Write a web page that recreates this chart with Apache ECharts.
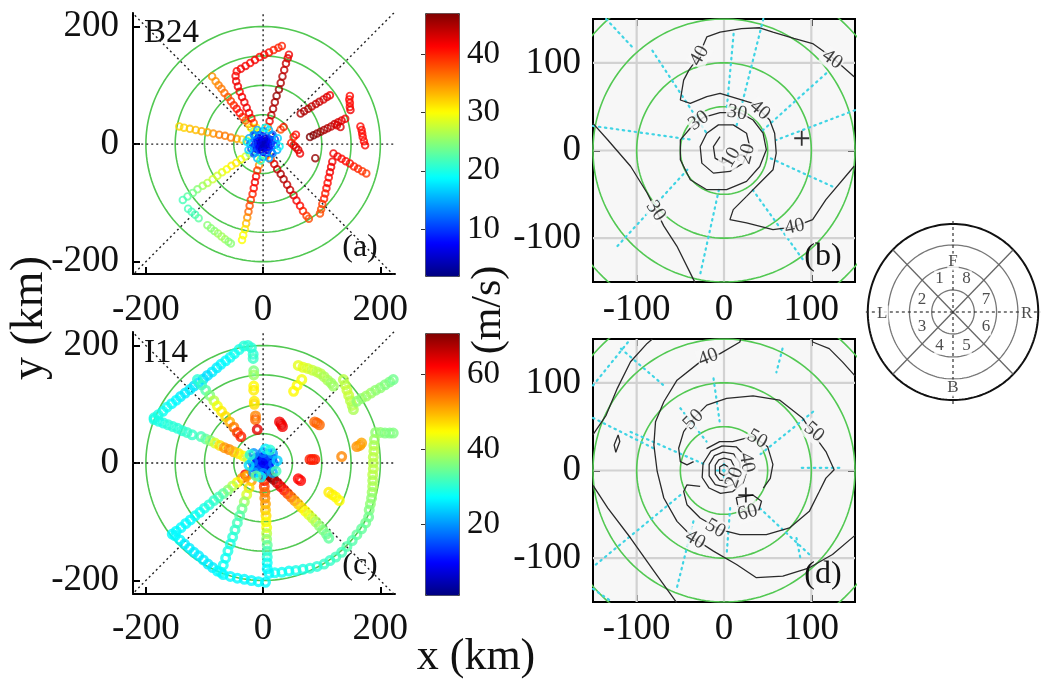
<!DOCTYPE html>
<html><head><meta charset="utf-8">
<script src="https://cdn.jsdelivr.net/npm/echarts@6/dist/echarts.min.js"></script>
<style>html,body{margin:0;padding:0;background:#fff}#c{width:1045px;height:679px}</style>
</head><body><div id="c"></div>
<script>
// ---------- tick labels ----------
const ticksA = [-200, 0, 200];
const ticksB = [-100, 0, 100];
const cbTicksA = [10, 20, 30, 40];
const cbTicksC = [20, 40, 60];
const ringRadii = [50, 100, 150, 200];
const diagRings = [22, 45, 67, 88];
const diagNumbers = [['1',-14,33],['8',14,33],['2',-32,12],['7',34,12],['3',-32,-15],['6',34,-15],['4',-14,-34],['5',14,-34]];
const diagLetters = [['F',0,50],['B',0,-76],['L',-73,-2],['R',76,-2]];

// ---------- panel (a) B24 : [x km, y km, wind m/s] ----------
const a_core = [[0,0,3],[3,2,3],[-3,-2,3],[2,-4,3],[-2,4,3],[6,0,4],[-6,0,4],[0,6,4],[0,-6,4],[5,5,4],[-5,-5,4],[5,-5,5],[-5,5,5],[9,3,5],[-9,-3,5],[3,9,5],[-3,-9,5],[9,-4,6],[-9,4,6],[11,8,6],[-11,-8,6],[8,-10,6],[-8,10,7],[13,0,7],[-13,0,7],[0,13,7],[0,-13,7],[15,6,8],[-15,-6,8],[6,-15,8],[-6,15,8],[14,14,9],[-14,-14,9],[14,-14,9],[-14,14,9],[18,-2,10],[-18,2,10],[20,8,11],[-20,-8,11],[22,0,12],[-22,0,12],[0,22,13],[0,-22,13],[16,16,12],[-16,-16,12],[16,-16,13],[-16,16,13],[24,-10,15],[-24,10,15],[10,24,16],[-10,-24,16],[25,10,17],[-25,-10,17],[10,-24,15],[-10,24,15],[28,-4,19],[-28,4,18],[4,28,19],[-4,-28,20]];
const a_nw = [[-12,16,18],[-16,22,24],[-21,28,30],[-25,34,34],[-30,40,37],[-35,46,39],[-40,53,41],[-45,60,41],[-50,66,40],[-55,73,39],[-60,80,38],[-66,87,37],[-71,94,36],[-76,100,36],[-81,107,35],[-87,115,35]];
const a_nnw = [[-8,20,22],[-12,28,30],[-16,36,38],[-20,44,41],[-24,53,42],[-28,62,42],[-32,71,42],[-36,80,42],[-40,89,41],[-43,98,42],[-46,107,42],[-47,116,42],[-45,124,41]];
const a_top = [[-38,128,42],[-30,133,42],[-22,138,41],[-14,143,42],[-6,148,41],[2,152,42],[10,156,41],[18,160,40],[26,164,40],[32,167,40]];
const a_nne = [[5,20,26],[8,29,36],[11,39,42],[14,49,44],[17,60,45],[20,71,45],[23,82,46],[27,93,46],[30,104,45],[33,115,45],[36,126,44],[39,137,44],[42,146,43],[44,152,42]];
const a_w = [[-20,4,22],[-28,6,28],[-36,8,32],[-45,9,34],[-55,11,36],[-65,14,36],[-75,16,36],[-85,18,35],[-95,20,34],[-105,22,34],[-115,24,33],[-125,26,33],[-135,28,32],[-143,30,32]];
const a_sw = [[-16,-11,18],[-23,-16,24],[-30,-21,28],[-38,-26,30],[-46,-32,31],[-54,-37,31],[-62,-43,30],[-70,-48,29],[-78,-54,28],[-86,-60,28],[-95,-66,27],[-103,-71,26],[-112,-77,25],[-120,-83,24],[-129,-89,23],[-137,-95,22]];
const a_sw2 = [[-128,-110,22],[-122,-115,22],[-116,-120,22],[-110,-126,23]];
const a_sw3 = [[-95,-138,25],[-89,-143,25],[-83,-148,25],[-77,-152,26],[-71,-157,26],[-65,-162,26],[-59,-166,25],[-55,-169,25]];
const a_ssw = [[-3,-20,24],[-5,-28,30],[-7,-36,35],[-10,-45,39],[-12,-55,41],[-14,-65,42],[-16,-75,41],[-18,-85,40],[-21,-95,39],[-23,-105,38],[-25,-115,37],[-27,-125,35],[-29,-135,33],[-31,-145,31],[-34,-155,30],[-36,-163,30]];
const a_se = [[8,-18,30],[13,-26,38],[19,-34,43],[24,-43,44],[30,-51,45],[35,-60,45],[41,-69,44],[46,-78,44],[52,-87,43],[57,-96,42],[63,-105,41],[68,-114,40],[74,-122,39],[78,-127,38]];
const a_east = [[30,25,38],[35,29,40],[48,2,40],[52,-2,42],[56,-6,43],[60,-10,43],[63,-16,42],[89,-24,46],[52,12,40],[56,16,41]];
const a_ene1 = [[80,12,48],[86,15,47],[92,18,46],[98,21,46],[104,24,45],[110,27,45],[116,30,44],[122,34,44],[128,37,43],[134,40,43],[140,43,42]];
const a_ene2 = [[64,52,45],[70,56,45],[77,60,45],[83,64,44],[90,68,44],[96,72,44],[103,76,43],[109,80,43],[114,83,42]];
const a_ene3 = [[148,82,41],[147,76,41],[148,70,41],[148,63,41],[149,58,42],[132,29,43],[126,32,43]];
const a_e2 = [[166,30,41],[168,24,41],[169,18,41],[170,12,41],[172,5,41],[174,-2,41]];
const a_ese = [[120,-16,42],[127,-21,42],[134,-25,41],[141,-29,41],[148,-33,41],[155,-38,40],[162,-42,40],[169,-46,39],[176,-50,39]];
const a_ese2 = [[118,-30,42],[116,-39,42],[114,-48,42],[112,-57,41],[110,-66,41],[108,-75,41],[106,-84,40],[104,-93,40],[101,-102,39],[99,-111,38],[97,-118,38]];

// ---------- panel (c) I14 ----------
const c_core = [[0,0,4],[4,3,5],[-4,-3,5],[3,-5,6],[-3,5,6],[8,0,7],[-8,0,7],[0,8,7],[0,-8,8],[7,7,8],[-7,-7,8],[7,-7,9],[-7,7,9],[12,3,10],[-12,-3,10],[3,12,11],[-3,-12,11],[11,-9,12],[-11,9,12],[15,8,14],[-15,-8,15],[8,15,15],[-8,-15,16],[18,-2,17],[-18,2,18],[0,18,18],[0,-18,20],[16,16,20],[-16,-16,21],[16,-16,22],[-16,16,20],[24,4,24],[-24,-4,25],[4,24,26],[-4,-24,27],[22,-14,32],[-22,14,30],[12,22,30],[-12,-22,34]];
const c_nwband = [[-33,199,30],[-41,193,29],[-49,186,28],[-56,180,28],[-64,174,27],[-72,168,27],[-79,162,26],[-87,155,26],[-95,149,25],[-102,143,25],[-110,137,25],[-118,131,25],[-125,125,26],[-133,119,26],[-141,113,26],[-148,107,27],[-156,101,27],[-164,95,28],[-171,88,28],[-179,82,29],[-186,77,29]];
const c_n = [[-26,200,30],[-20,196,30],[-17,185,30],[-17,178,31],[-16,157,36],[-16,150,38],[-16,131,45],[-16,124,46],[-15,105,46],[-15,100,47],[-13,80,53],[-13,74,55],[-10,57,64]];
const c_wband = [[-186,74,29],[-178,71,29],[-170,68,29],[-162,65,30],[-154,62,30],[-146,59,30],[-138,55,30],[-130,52,31],[-121,48,31]];
const c_wnw = [[-106,45,32],[-98,41,34],[-90,38,37],[-82,34,42],[-74,30,47],[-66,26,52],[-58,23,53],[-50,19,50],[-42,16,47],[-34,12,45],[-26,8,40]];
const c_nw = [[-112,142,30],[-105,133,31],[-98,124,33],[-91,115,36],[-84,106,40],[-78,97,44],[-71,88,46],[-64,79,47],[-57,70,50],[-50,61,54],[-44,52,58],[-38,45,60]];
const c_ne = [[28,70,63],[31,66,64],[33,62,63],[52,122,45],[58,132,45],[66,142,44]];
const c_neband = [[60,166,43],[68,163,43],[76,161,42],[84,158,41],[92,155,40],[98,152,40],[104,147,39],[110,141,39],[116,136,38],[120,131,38]];
const c_neband2 = [[137,142,40],[140,133,40],[143,124,41],[146,115,41],[149,106,40],[152,98,40],[154,91,39]];
const c_neband3 = [[160,105,37],[168,110,37],[176,114,38],[184,119,38],[192,124,37],[200,128,37],[208,133,36],[216,138,36],[222,142,35]];
const c_e = [[88,70,55],[92,68,56],[96,65,55],[80,6,60],[84,6,61],[88,6,60],[134,11,53],[160,28,52],[165,30,52],[168,34,51]];
const c_eband = [[192,52,37],[200,52,37],[208,51,36],[216,51,36],[222,51,36]];
const c_evert = [[190,40,38],[189,30,39],[189,20,40],[188,10,40],[188,0,40],[188,-10,40],[187,-20,40],[187,-30,39],[187,-40,39],[186,-50,38],[185,-60,37],[183,-70,37],[181,-80,36]];
const c_se2 = [[112,-50,46],[118,-54,46],[124,-58,45],[130,-64,45],[60,-27,62],[64,-30,62]];
const c_se = [[10,-20,68],[14,-24,71],[18,-28,70],[24,-34,66],[30,-40,63],[36,-46,61],[42,-52,58],[48,-58,55],[54,-64,52],[60,-70,49],[66,-76,47],[72,-82,45],[78,-88,43],[84,-94,41],[90,-100,39],[96,-107,37],[102,-114,36],[108,-121,35],[112,-128,34]];
const c_arc = [[180,-92,35],[175,-102,35],[168,-112,34],[160,-122,34],[152,-132,33],[143,-142,33],[134,-152,32],[124,-160,32],[114,-166,31],[104,-172,31],[92,-176,30],[80,-179,30],[68,-181,29],[56,-183,29],[44,-184,28],[32,-186,28],[20,-187,28],[10,-188,27]];
const c_s = [[1,-22,62],[2,-30,62],[2,-40,58],[3,-50,55],[3,-60,53],[4,-70,51],[4,-80,49],[5,-90,47],[5,-100,45],[6,-110,44],[6,-120,40],[6,-130,37],[7,-140,34],[7,-150,32],[7,-160,30],[7,-170,28],[7,-180,27]];
const c_sw = [[-20,-14,45],[-30,-20,63],[-28,-22,50],[-36,-26,52],[-44,-33,45],[-52,-39,40],[-60,-46,37],[-68,-52,34],[-76,-58,32],[-84,-64,31],[-92,-71,30],[-100,-77,29],[-108,-84,28],[-116,-90,28],[-124,-97,27],[-132,-103,27],[-140,-110,27],[-148,-116,27],[-155,-121,27]];
const c_ssw = [[-20,-30,52],[-24,-42,47],[-28,-54,42],[-32,-66,38],[-36,-78,35],[-40,-90,33],[-44,-102,32],[-48,-114,31],[-52,-126,30],[-56,-138,29],[-60,-150,29],[-64,-162,28],[-68,-174,28],[-72,-186,28]];
const c_bl = [[-150,-124,27],[-142,-131,27],[-134,-138,26],[-126,-145,26],[-118,-152,26],[-110,-158,26],[-102,-165,26],[-94,-172,26],[-86,-178,26],[-78,-184,27],[-68,-190,27],[-56,-193,27],[-44,-196,27],[-32,-198,27],[-20,-200,27],[-8,-202,27],[4,-203,27]];

// ---------- panel (b) contours [x km, y km] ----------
const b_c40a = [[-34.8,99.2],[-28,110],[-19.7,129.5],[-4.5,135],[20,139],[40.9,140],[56,135],[80,128],[101.5,122],[124,106],[149,84]];
const b_c40b = [[-34.8,99.2],[-40,92],[-46.2,80.3],[-50,57.6],[-38.6,53.8],[-19.7,61.4],[-4.5,65.2],[14.4,59.5],[33.3,53.8],[52.3,34.8],[58,19.7],[59.8,-3],[56.1,-22],[40.9,-37.1],[25.8,-52.3],[10.6,-67.4],[6.8,-78.8],[25.8,-82.6],[56.1,-90.2],[80,-87],[101.5,-78.8],[116.7,-56.1],[149,-18]];
const b_c30a = [[-150,31],[-133,12],[-107,-18],[-88,-48.5],[-78,-68],[-69,-86],[-54,-109],[-35,-147],[-33,-151]];
const b_c30b = [[-38.6,25.4],[-50,12.1],[-50,-10.6],[-38.6,-33.3],[-19.7,-44.7],[3,-44.7],[25.8,-35.2],[40.9,-18.2],[48.5,0.8],[44.7,19.7],[33.3,34.8],[18.2,43.2],[-4.5,43.2],[-23.5,37.9],[-38.6,25.4]];
const b_c20 = [[-19.7,19.7],[-27.3,4.5],[-25.4,-14.4],[-12.1,-25.8],[6.8,-23.9],[22,-14.4],[29.5,4.5],[25.8,19.7],[10.6,29.2],[-6.4,29.2],[-19.7,19.7]];
const b_c10 = [[-4.5,15.9],[-12.1,4.5],[-10.2,-8.7],[-0.8,-14.4],[6.8,-10.6]];
const b_labels = [[-28,108,'40'],[124,104,'40'],[41,46,'40'],[-29,34,'30'],[15,43,'30'],[26,-4,'20'],[8,-8,'10'],[81,-87,'40'],[-78,-69,'30']];
const b_labelRot = [60,-35,-40,35,-10,75,60,12,-55];
const b_center = [[89,14]];
const b_tracks = [[[-150,28],[-35,12]],[[-82,114],[-20,20]],[[11,133],[3,46]],[[45,150],[14,27]],[[117,88],[41,20]],[[150,46],[60,12]],[[124,-41],[49,-7]],[[90,-124],[33,-45]],[[-27,-140],[-5,-41]],[[-122,-109],[-42,-22]],[[-135,150],[-105,118]]];

// ---------- panel (d) contours ----------
const d_c40tl = [[-150,41],[-135,63],[-122,94],[-107,124],[-88,145],[-82,150]];
const d_c40 = [[19,150],[18.2,146.6],[-4.5,133.3],[-27.3,123.9],[-53.8,103],[-68.9,78.4],[-78.4,55.7],[-80.3,29.2],[-76.5,-1.1],[-68.9,-31.4],[-53.8,-58],[-35,-77],[-12.1,-92],[14.4,-107.2],[37.1,-122.3],[67.4,-120.5],[97.7,-111],[124.2,-95.8],[150,-74]];
const d_c40tr = [[101,150],[101.5,146.6],[120.5,139],[135.6,123.9],[150,108]];
const d_c30 = [[-150,-17],[-133,-43],[-107,-77],[-80,-115],[-54,-151]];
const d_c50 = [[-34.8,10.2],[-42.4,6.4],[-50,10.2],[-51.9,25.4],[-46.2,44.3],[-34.8,59.5],[-19.7,74.6],[3,82.2],[33.3,85.2],[63.6,80.3],[90.2,59.5],[101.5,42.4],[116.7,21.6],[126.1,0.8],[116.7,-8.7],[109.1,-23.9],[97.7,-46.6],[75,-65.5],[48.5,-73.1],[18.2,-73.1],[-4.5,-67.4],[-27.3,-54.2],[-42.4,-39],[-46.2,-23.9],[-42.4,-16.3],[-27.3,-18.2]];
const d_c50i = [[-20,25],[-5,33],[10,33],[33,39],[50,27],[56,7],[53,-9],[45,-20]];
const d_r40 = [[-2,28],[14,27],[24,17],[27,2],[22,-14],[10,-24],[-4,-26],[-17,-20],[-25,-8],[-24,8],[-15,22],[-2,28]];
const d_r30 = [[-1,21],[11,19],[18,9],[19,-4],[13,-15],[2,-19],[-10,-16],[-17,-6],[-17,7],[-11,17],[-1,21]];
const d_r20 = [[0,14],[8,12],[12,4],[11,-6],[4,-12],[-5,-11],[-10,-4],[-10,6],[-6,12],[0,14]];
const d_r10 = [[0,7],[5,4],[5,-3],[0,-6],[-5,-3],[-5,4],[0,7]];
const d_c60 = [[14,-31],[33,-28],[43,-35],[40,-45],[26,-47],[16,-41],[14,-31]];
const d_small = [[-125.8,29.2],[-121.2,40.5],[-119.3,33],[-123.9,20.8],[-125.8,29.2]];
const d_labels = [[-18,129,'40'],[-35,58,'50'],[103,44,'50'],[38,36,'50'],[26,9,'40'],[12,-8,'20'],[27,-48,'60'],[-10,-66,'50'],[-33,-79,'40']];
const d_labelRot = [20,45,-40,-30,-80,70,15,-30,-30];
const d_center = [[25,-28]];
const d_tracks = [[[-150,97],[-107,150]],[[-150,60],[-80,25]],[[-107,44],[-20,6]],[[-118,139],[-69,97]],[[-50,71],[-20,33]],[[-12,105],[-5,56]],[[67,139],[60,112]],[[102,67],[41,18]],[[132,3],[86,3]],[[41,-43],[98,-96]],[[7,-43],[3,-96]],[[-50,-28],[-150,-110]],[[-35,-58],[-54,-134]],[[83,-77],[88,-103]],[[-8,0],[8,0]],[[0,-8],[0,8]],[[-150,-135],[-128,-150]]];

// ---------- build ----------
const FONT = '"Liberation Serif","Times New Roman",serif';
const JET = ['#00007F','#0000FF','#007FFF','#00FFFF','#7FFF7F','#FFFF00','#FF7F00','#FF0000','#7F0000'];
const RING = 'path://M0,-10A10,10,0,1,1,0,10A10,10,0,1,1,0,-10ZM0,-5.6A5.6,5.6,0,1,0,0,5.6A5.6,5.6,0,1,0,0,-5.6Z';
const RING2 = 'path://M0,-10A10,10,0,1,1,0,10A10,10,0,1,1,0,-10ZM0,-4.2A4.2,4.2,0,1,0,0,4.2A4.2,4.2,0,1,0,0,-4.2Z';
const PLUS = 'path://M-1.2,-10H1.2V-1.2H10V1.2H1.2V10H-1.2V1.2H-10V-1.2H-1.2Z';

function circle(r){ const p=[]; for(let i=0;i<=180;i++){const t=i/180*2*Math.PI; p.push([r*Math.cos(t), r*Math.sin(t)]);} return p; }

const series = [];
function add(s){ series.push(s); return series.length-1; }
function line(ax, pts, ls, z){ add({type:'line', xAxisIndex:ax, yAxisIndex:ax, data:pts, showSymbol:false, symbol:'none', clip:true, silent:true, z:z||2, lineStyle:ls, animation:false}); }

const GREEN = {color:'#52c852', width:1.6};
const DOTBLK = {color:'#222', width:1.4, type:[2,3]};
const CYAN = {color:'#3fd4e4', width:2.2, type:[1.5,4.5], cap:'round'};
const CONT = {color:'#2a2a2a', width:1.3};
const GRAY = {color:'#d2d2d2', width:2.2};

// panels A and C
[0,1].forEach(ax=>{
  ringRadii.forEach(r=>line(ax, circle(r), GREEN, 1));
  line(ax, [[-225,-225],[225,225]], DOTBLK, 1);
  line(ax, [[-225,225],[225,-225]], DOTBLK, 1);
  line(ax, [[-225,0],[225,0]], DOTBLK, 1);
  line(ax, [[0,-225],[0,225]], DOTBLK, 1);
});
const scatA = [].concat(a_nw,a_nnw,a_top,a_nne,a_w,a_sw,a_sw2,a_sw3,a_ssw,a_se,a_east,a_ene1,a_ene2,a_ene3,a_e2,a_ese,a_ese2,a_core);
const scatC = [].concat(c_nwband,c_n,c_wband,c_wnw,c_nw,c_ne,c_neband,c_neband2,c_neband3,c_e,c_eband,c_evert,c_se2,c_arc,c_s,c_sw,c_ssw,c_bl,c_se,c_core);
const idxA = add({type:'scatter', xAxisIndex:0, yAxisIndex:0, data:scatA, symbol:RING, symbolSize:8.5, z:3, silent:true, animation:false});
const idxC = add({type:'scatter', xAxisIndex:1, yAxisIndex:1, data:scatC, symbol:RING2, symbolSize:11, z:3, silent:true, animation:false});

// panels B and D
function boxPanel(ax, tracks, contours, labels, rots, center){
  ticksB.forEach(v=>{ line(ax, [[v,-150],[v,150]], GRAY, 1); line(ax, [[-150,v],[150,v]], GRAY, 1); });
  ringRadii.forEach(r=>line(ax, circle(r), GREEN, 2));
  tracks.forEach(t=>line(ax, t, CYAN, 2));
  contours.forEach(c=>line(ax, c, CONT, 3));
  add({type:'scatter', xAxisIndex:ax, yAxisIndex:ax, symbolSize:0, z:4, silent:true, animation:false,
       data: labels.map((p,i)=>({value:[p[0],p[1]], name:p[2], label:{rotate:rots[i]}})),
       label:{show:true, position:'inside', formatter:'{b}', fontFamily:FONT, fontSize:20, color:'#111', backgroundColor:'#f7f7f7', padding:[0,1]}});
  add({type:'scatter', xAxisIndex:ax, yAxisIndex:ax, data:center, symbol:PLUS, symbolSize:15, itemStyle:{color:'#000'}, z:5, silent:true, animation:false});
}
boxPanel(2, b_tracks, [b_c40a,b_c40b,b_c30a,b_c30b,b_c20,b_c10], b_labels, b_labelRot, b_center);
boxPanel(3, d_tracks, [d_c40tl,d_c40,d_c40tr,d_c30,d_c50,d_c50i,d_r40,d_r30,d_r20,d_r10,d_c60,d_small], d_labels, d_labelRot, d_center);

// diagram
diagRings.forEach((r,i)=>line(6, circle(r), i===3?{color:'#111',width:2}:{color:'#777',width:1.3}, 2));
const dg = diagRings[3]*Math.SQRT1_2;
line(6, [[-dg,-dg],[dg,dg]], {color:'#666',width:1.3}, 2);
line(6, [[-dg,dg],[dg,-dg]], {color:'#666',width:1.3}, 2);
line(6, [[-90,0],[90,0]], {color:'#333',width:1.2,type:[3,3]}, 2);
line(6, [[0,-92],[0,92]], {color:'#333',width:1.2,type:[3,3]}, 2);
add({type:'scatter', xAxisIndex:6, yAxisIndex:6, symbolSize:0, z:4, silent:true, animation:false,
     data: diagNumbers.concat(diagLetters).map(p=>({value:[p[1],p[2]], name:p[0]})),
     label:{show:true, position:'inside', formatter:'{b}', fontFamily:FONT, fontSize:17, color:'#222', backgroundColor:'#fff', padding:[0,1]}});

// ---------- axes ----------
function ax(grid, pos, min, max, ticks, labels, margin, extra){
  const o = {type:'value', gridIndex:grid, position:pos, min:min, max:max, splitLine:{show:false},
    axisLine:{show:true, onZero:false, lineStyle:{color:'#000', width:2}},
    axisTick:{show:true, inside:true, length:7, customValues:ticks, lineStyle:{color:'#000', width:2}},
    axisLabel:{show:labels, customValues:ticks, fontFamily:FONT, fontSize:37, color:'#111', margin:margin}};
  return Object.assign(o, extra||{});
}
const xAxis = [
  ax(0,'bottom',-222,225,ticksA,true,18),
  ax(1,'bottom',-222,225,ticksA,true,17),
  ax(2,'bottom',-150,150,ticksB,true,10),
  ax(3,'bottom',-150,150,ticksB,true,9),
  {type:'value', gridIndex:4, show:false, min:0, max:1},
  {type:'value', gridIndex:5, show:false, min:0, max:1},
  {type:'value', gridIndex:6, show:false, min:-95, max:95},
  ax(2,'top',-150,150,ticksB,false,8),
  ax(3,'top',-150,150,ticksB,false,8)
];
const yAxis = [
  ax(0,'left',-221,223,ticksA,true,14),
  ax(1,'left',-223,223,ticksA,true,14),
  ax(2,'left',-150,150,ticksB,true,12),
  ax(3,'left',-150,150,ticksB,true,12),
  {type:'value', gridIndex:4, position:'right', min:2, max:47, z:10, splitLine:{show:false}, axisLine:{show:false},
   axisTick:{show:true, inside:true, length:4, customValues:cbTicksA, lineStyle:{color:'#333'}},
   axisLabel:{customValues:cbTicksA, fontFamily:FONT, fontSize:33, color:'#111', margin:8}},
  {type:'value', gridIndex:5, position:'right', min:1, max:71, z:10, splitLine:{show:false}, axisLine:{show:false},
   axisTick:{show:true, inside:true, length:4, customValues:cbTicksC, lineStyle:{color:'#333'}},
   axisLabel:{customValues:cbTicksC, fontFamily:FONT, fontSize:33, color:'#111', margin:8}},
  {type:'value', gridIndex:6, show:false, min:-95, max:95},
  ax(2,'right',-150,150,ticksB,false,8),
  ax(3,'right',-150,150,ticksB,false,8)
];
const grid = [
  {left:133, top:13, width:262, height:261},
  {left:133, top:332, width:262, height:262},
  {left:593, top:19, width:262, height:263, show:true, backgroundColor:'#f7f7f7', borderColor:'#000', borderWidth:2},
  {left:593, top:339, width:262, height:263, show:true, backgroundColor:'#f7f7f7', borderColor:'#000', borderWidth:2},
  {left:425, top:13, width:34, height:263},
  {left:425, top:333, width:34, height:262},
  {left:861, top:217, width:190, height:190}
];

const vmBase = {type:'continuous', dimension:2, calculable:false, orient:'vertical', left:425, itemWidth:34, padding:0,
  inRange:{color:JET}, borderColor:'#444', borderWidth:1, hoverLink:false, text:null};
const visualMap = [
  Object.assign({}, vmBase, {seriesIndex:idxA, min:2, max:47, top:13, itemHeight:263}),
  Object.assign({}, vmBase, {seriesIndex:idxC, min:1, max:71, top:333, itemHeight:262})
];

function txt(t, x, y, size, align, rot){ return {type:'text', x:x, y:y, rotation:rot||0, z:20, silent:true,
  style:{text:t, fontFamily:FONT, fontSize:size, fill:'#111', align:align||'center', verticalAlign:'middle'}}; }
const graphic = [
  txt('y (km)', 30, 318, 46, 'center', Math.PI/2),
  txt('x (km)', 476, 657, 44, 'center'),
  txt('(m/s)', 489, 310, 42, 'center', Math.PI/2),
  txt('B24', 144, 33, 33, 'left'),
  txt('(a)', 360, 248, 32),
  txt('I14', 144, 353, 33, 'left'),
  txt('(c)', 360, 566, 32),
  txt('(b)', 823, 257, 32),
  txt('(d)', 823, 575, 32)
];

const chart = echarts.init(document.getElementById('c'), null, {renderer:'canvas'});
chart.setOption({animation:false, backgroundColor:'#fff', grid, xAxis, yAxis, visualMap, series, graphic});
</script></body></html>
